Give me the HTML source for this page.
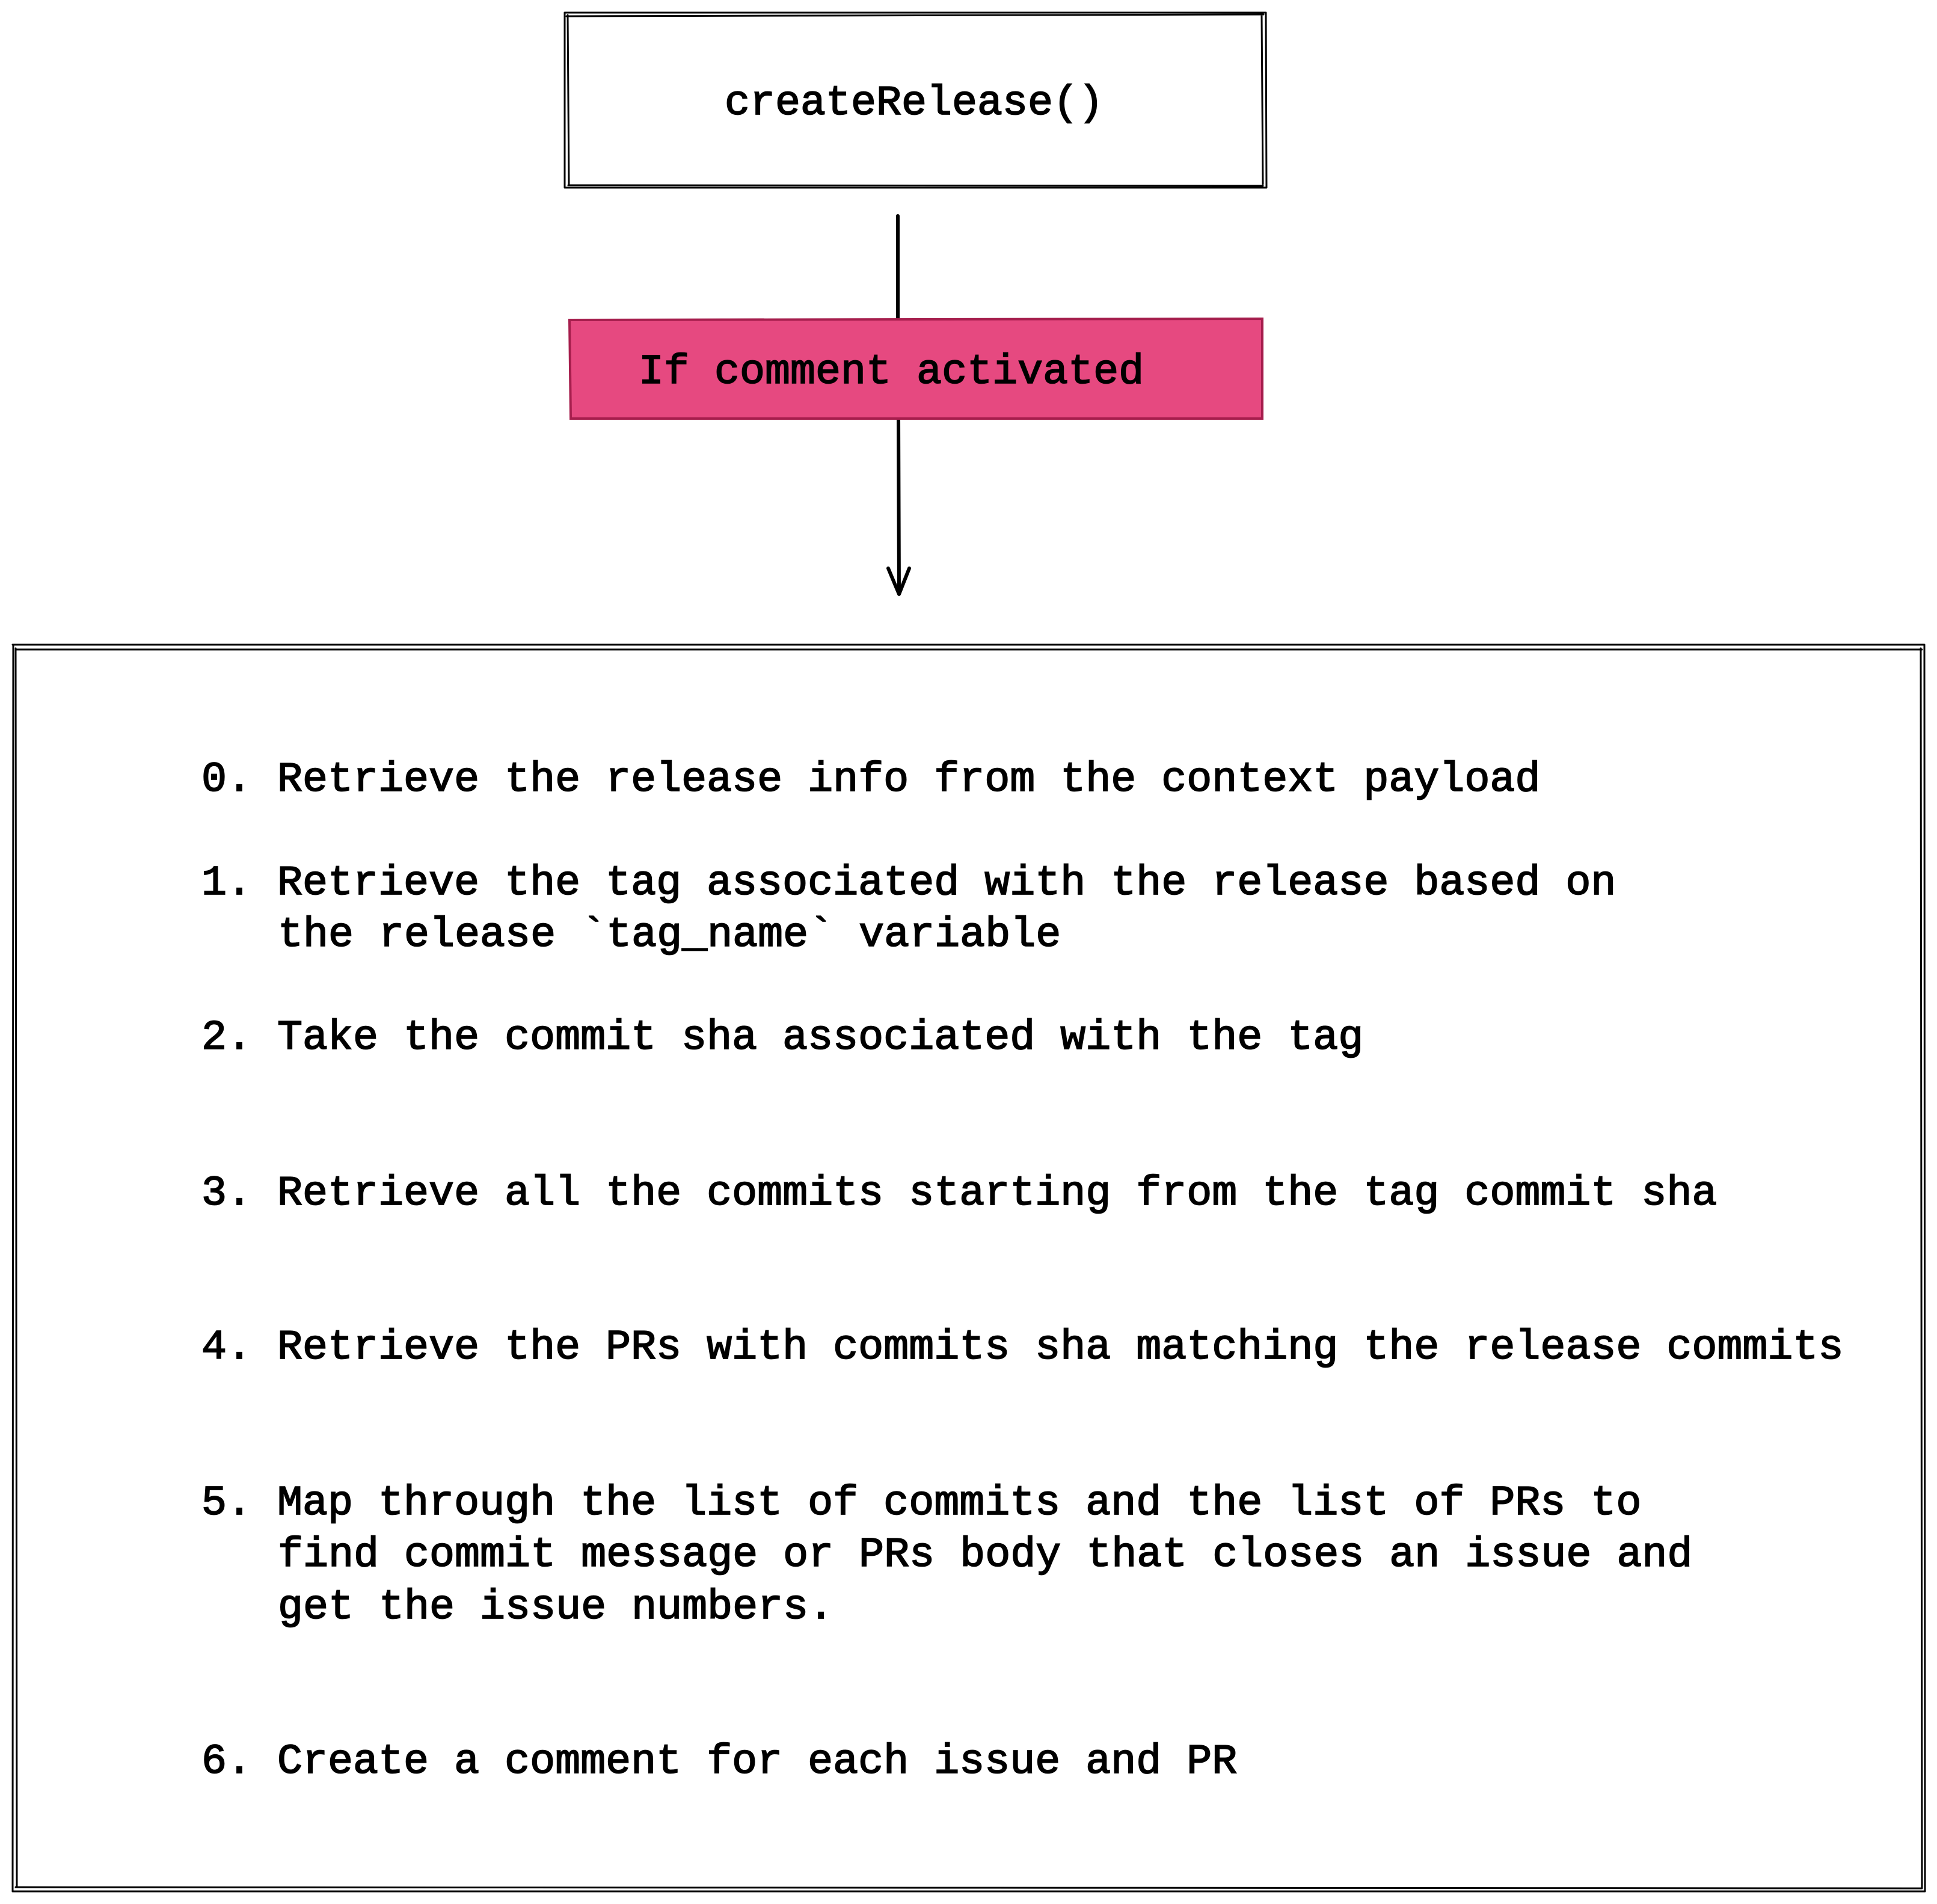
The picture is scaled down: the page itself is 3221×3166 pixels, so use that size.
<!DOCTYPE html>
<html><head><meta charset="utf-8"><style>html,body{margin:0;padding:0;background:#fff}svg{display:block}</style></head>
<body>
<svg width="3221" height="3166" viewBox="0 0 3221 3166" xmlns="http://www.w3.org/2000/svg">
<rect width="3221" height="3166" fill="#fff"/>
<g fill="none" stroke="#000" stroke-width="3" stroke-linecap="round">
<path d="M939 21 L2105 21 M942 27 L2101 24 M2105 21 L2106 312 M2098 26 L2100 306 M2106 312 L939 312 M2100 309 L945 308 M939 312 L939 21 M946 306 L944 25"/>
<path d="M21 1072 L3200 1072 M26 1080 L3196 1080 M3200 1072 L3201 3145 M3194 1078 L3196 3140 M3201 3145 L21 3145 M3196 3140 L26 3138 M21 3145 L22 1072 M28 3138 L26 1078"/>
</g>
<path d="M1493 359 L1493 531 M1494 694 L1495 986 M1477 945 L1495 988 L1512 945" fill="none" stroke="#000" stroke-width="6" stroke-linecap="round" stroke-linejoin="round"/>
<path d="M947 532 L2099 530 L2099 696 L949 696 Z" fill="#e64980" stroke="#a61e4d" stroke-width="4"/>
<g font-family="'Liberation Mono', monospace" font-size="70" fill="#000" stroke="#000" stroke-width="1.8">
<text x="1520" y="190" text-anchor="middle">createRelease()</text>
<text x="1062" y="637">If comment activated</text>
<text x="335" y="1315">0. Retrieve the release info from the context payload</text>
<text x="335" y="1487">1. Retrieve the tag associated with the release based on</text>
<text x="462" y="1573">the release `tag_name` variable</text>
<text x="335" y="1744">2. Take the commit sha associated with the tag</text>
<text x="335" y="2003">3. Retrieve all the commits starting from the tag commit sha</text>
<text x="335" y="2259">4. Retrieve the PRs with commits sha matching the release commits</text>
<text x="335" y="2518">5. Map through the list of commits and the list of PRs to</text>
<text x="462" y="2604">find commit message or PRs body that closes an issue and</text>
<text x="462" y="2691">get the issue numbers.</text>
<text x="335" y="2948">6. Create a comment for each issue and PR</text>
</g>
</svg>
</body></html>
